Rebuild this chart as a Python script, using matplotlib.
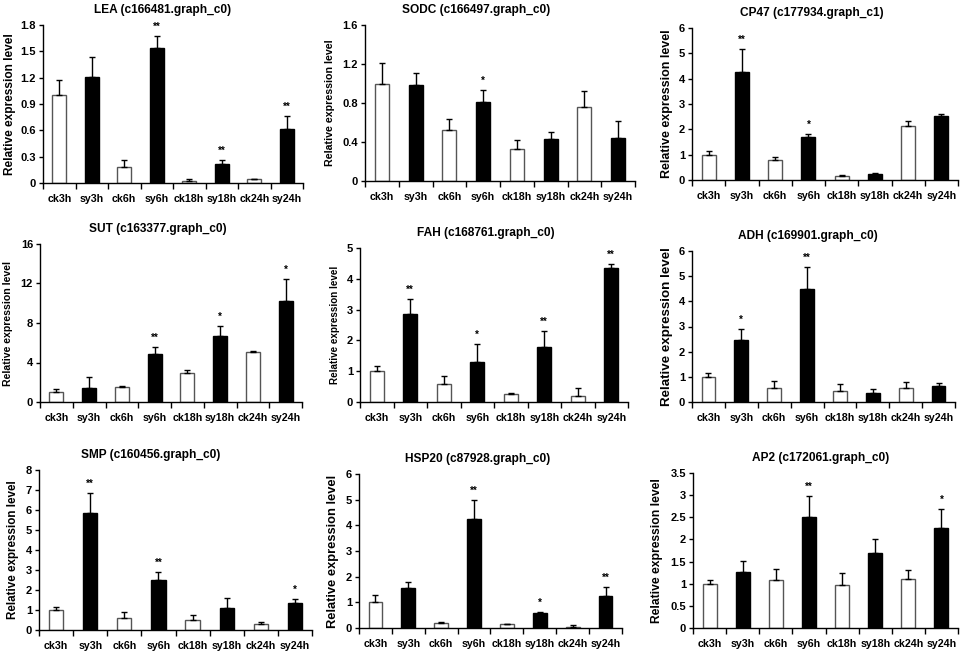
import matplotlib
matplotlib.use("Agg")
import matplotlib.pyplot as plt

plt.rcParams['font.family'] = ['Liberation Sans', 'DejaVu Sans']
plt.rcParams['font.weight'] = 'bold'

categories = ["ck3h", "sy3h", "ck6h", "sy6h", "ck18h", "sy18h", "ck24h", "sy24h"]

titles = ["LEA (c166481.graph_c0)", "SODC (c166497.graph_c0)", "CP47 (c177934.graph_c1)",
          "SUT (c163377.graph_c0)", "FAH (c168761.graph_c0)", "ADH (c169901.graph_c0)",
          "SMP (c160456.graph_c0)", "HSP20 (c87928.graph_c0)", "AP2 (c172061.graph_c0)"]

lea_vals = [1.0, 1.21, 0.18, 1.54, 0.02, 0.22, 0.04, 0.61]
lea_err = [0.17, 0.22, 0.08, 0.14, 0.02, 0.04, 0.01, 0.15]
lea_sig = ["", "", "", "**", "", "**", "", "**"]

sodc_vals = [1.0, 0.98, 0.52, 0.81, 0.33, 0.43, 0.76, 0.44]
sodc_err = [0.21, 0.13, 0.12, 0.12, 0.09, 0.07, 0.16, 0.18]
sodc_sig = ["", "", "", "*", "", "", "", ""]

cp47_vals = [1.0, 4.26, 0.77, 1.69, 0.16, 0.24, 2.14, 2.53]
cp47_err = [0.15, 0.92, 0.13, 0.13, 0.03, 0.02, 0.17, 0.06]
cp47_sig = ["", "**", "", "*", "", "", "", ""]

sut_vals = [0.98, 1.45, 1.49, 4.83, 2.97, 6.66, 5.10, 10.24]
sut_err = [0.34, 1.08, 0.13, 0.71, 0.23, 1.0, 0.07, 2.23]
sut_sig = ["", "", "", "**", "", "*", "", "*"]

fah_vals = [1.0, 2.85, 0.57, 1.29, 0.26, 1.77, 0.20, 4.35]
fah_err = [0.17, 0.48, 0.28, 0.58, 0.02, 0.52, 0.27, 0.14]
fah_sig = ["", "**", "", "*", "", "**", "", "**"]

adh_vals = [1.0, 2.46, 0.56, 4.50, 0.45, 0.36, 0.57, 0.62]
adh_err = [0.16, 0.45, 0.28, 0.88, 0.25, 0.14, 0.21, 0.15]
adh_sig = ["", "*", "", "**", "", "", "", ""]

smp_vals = [1.0, 5.85, 0.58, 2.50, 0.50, 1.10, 0.28, 1.37]
smp_err = [0.17, 0.98, 0.30, 0.42, 0.27, 0.52, 0.10, 0.16]
smp_sig = ["", "**", "", "**", "", "", "", "*"]

hsp_vals = [1.0, 1.57, 0.18, 4.23, 0.14, 0.58, 0.05, 1.23]
hsp_err = [0.28, 0.21, 0.04, 0.77, 0.03, 0.06, 0.05, 0.35]
hsp_sig = ["", "", "", "**", "", "*", "", "**"]

ap2_vals = [1.0, 1.26, 1.08, 2.51, 0.98, 1.69, 1.10, 2.25]
ap2_err = [0.09, 0.26, 0.26, 0.47, 0.26, 0.32, 0.21, 0.44]
ap2_sig = ["", "", "", "**", "", "", "", "*"]

yticks_list = [
    ([0, 0.3, 0.6, 0.9, 1.2, 1.5, 1.8], ["0", "0.3", "0.6", "0.9", "1.2", "1.5", "1.8"]),
    ([0, 0.4, 0.8, 1.2, 1.6], ["0", "0.4", "0.8", "1.2", "1.6"]),
    ([0, 1, 2, 3, 4, 5, 6], ["0", "1", "2", "3", "4", "5", "6"]),
    ([0, 4, 8, 12, 16], ["0", "4", "8", "12", "16"]),
    ([0, 1, 2, 3, 4, 5], ["0", "1", "2", "3", "4", "5"]),
    ([0, 1, 2, 3, 4, 5, 6], ["0", "1", "2", "3", "4", "5", "6"]),
    ([0, 1, 2, 3, 4, 5, 6, 7, 8], ["0", "1", "2", "3", "4", "5", "6", "7", "8"]),
    ([0, 1, 2, 3, 4, 5, 6], ["0", "1", "2", "3", "4", "5", "6"]),
    ([0, 0.5, 1, 1.5, 2, 2.5, 3, 3.5], ["0", "0.5", "1", "1.5", "2", "2.5", "3", "3.5"]),
]

data = [(lea_vals, lea_err, lea_sig), (sodc_vals, sodc_err, sodc_sig), (cp47_vals, cp47_err, cp47_sig),
        (sut_vals, sut_err, sut_sig), (fah_vals, fah_err, fah_sig), (adh_vals, adh_err, adh_sig),
        (smp_vals, smp_err, smp_sig), (hsp_vals, hsp_err, hsp_sig), (ap2_vals, ap2_err, ap2_sig)]

W, H = 964, 654
# axes boxes in pixels: left, right, top, bottom
boxes = [(43, 303, 25, 183), (365, 635, 25, 181), (692, 958, 28, 180),
         (40, 302, 244, 402), (360, 628, 248, 402), (692, 955, 251, 402),
         (39, 312, 470, 630), (359, 622, 474, 628), (693, 958, 473, 628)]
title_x = [0.46, 0.41, 0.45, 0.45, 0.47, 0.44, 0.41, 0.45, 0.48]
ylab_px = [10, 330, 667, 8, 335, 667, 13, 333, 657]
ylab_size = [8.6, 7.7, 9.0, 7.6, 7.1, 9.6, 8.4, 9.3, 8.7]

fig = plt.figure(figsize=(W / 100, H / 100), dpi=100)

for k in range(9):
    l, r, t, b = boxes[k]
    ax = fig.add_axes([l / W, 1 - b / H, (r - l) / W, (b - t) / H])
    vals, errs, sigs = data[k]
    x = list(range(len(categories)))
    colors = ["white" if c.startswith("ck") else "black" for c in categories]
    edges = ["#555555" if c.startswith("ck") else "black" for c in categories]
    ax.bar(x, vals, width=0.42, color=colors, edgecolor=edges, linewidth=1.0, zorder=2)
    ax.errorbar(x, vals, yerr=[[0] * len(vals), errs], fmt="none", ecolor="black",
                elinewidth=1.0, capsize=2, capthick=1.0, zorder=3)
    for i, s in enumerate(sigs):
        if s:
            ax.annotate(s, (x[i], vals[i] + errs[i]), xytext=(0, 3), textcoords="offset points",
                        ha="center", va="bottom", fontsize=7, fontweight="bold")
    ticks, labels = yticks_list[k]
    ax.set_ylim(0, ticks[-1])
    ax.set_yticks(ticks)
    ax.set_yticklabels(labels, fontsize=8, fontweight="bold")
    ax.set_xlim(-0.5, len(categories) - 0.5)
    ax.set_xticks([i - 0.5 for i in range(len(categories) + 1)])
    ax.set_xticklabels([])
    ax.set_xticks(x, minor=True)
    ax.set_xticklabels(categories, minor=True, fontsize=7.7, fontweight="bold")
    ax.tick_params(axis="x", which="minor", length=0, pad=8)
    ax.tick_params(axis="x", which="major", length=4, width=1, direction="out")
    ax.tick_params(axis="y", length=3, width=1, direction="out", pad=2)
    for sp in ["top", "right"]:
        ax.spines[sp].set_visible(False)
    for sp in ["left", "bottom"]:
        ax.spines[sp].set_linewidth(1.0)
    ax.text(title_x[k], 1 + 15 / (b - t), titles[k], transform=ax.transAxes, ha="center",
            va="center", fontsize=8.6, fontweight="bold")
    fig.text(ylab_px[k] / W, 1 - ((t + b) / 2) / H, "Relative expression level", rotation=90,
             ha="center", va="center", fontsize=ylab_size[k], fontweight="bold")

fig.savefig("out.png", dpi=100, facecolor="white")
